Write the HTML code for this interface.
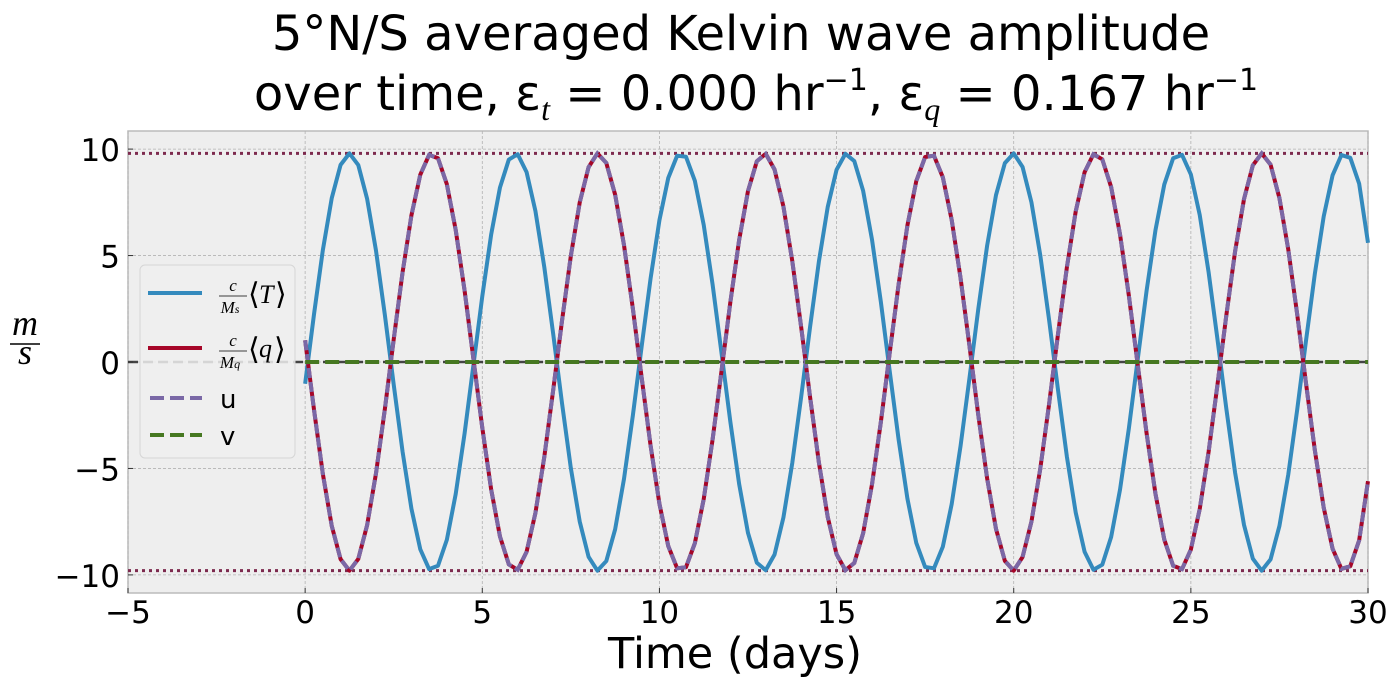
<!DOCTYPE html>
<html><head><meta charset="utf-8"><style>
body{margin:0;background:#fff;}
svg{display:block;font-family:"DejaVu Sans","Liberation Sans",sans-serif;}
</style></head><body>
<svg id="chart" width="1399" height="686" viewBox="0 0 1399 686" xmlns="http://www.w3.org/2000/svg">
<text x="741" y="50" font-size="48" text-anchor="middle">5°N/S averaged Kelvin wave amplitude</text>
<text x="756" y="110" font-size="48" text-anchor="middle">over time, ε<tspan font-family="Liberation Serif" font-style="italic" font-size="32" dy="10">t</tspan><tspan dy="-10"> = 0.000 hr</tspan><tspan font-size="30" dy="-20">−1</tspan><tspan dy="20">,  ε</tspan><tspan font-family="Liberation Serif" font-style="italic" font-size="32" dy="10">q</tspan><tspan dy="-10"> = 0.167 hr</tspan><tspan font-size="30" dy="-20">−1</tspan></text>
<rect x="128" y="131" width="1240" height="462" fill="#eeeeee" stroke="#bcbcbc" stroke-width="1.5"/>
<g id="grid"></g>
<g id="ref"></g>
<g id="series"></g>
<g id="ticks"></g>
<text x="735" y="668" font-size="43" text-anchor="middle">Time (days)</text>
<g font-family="Liberation Serif" font-style="italic" font-size="36" text-anchor="middle">
<text x="25" y="335">m</text>
<line x1="10" y1="344" x2="40" y2="344" stroke="#000" stroke-width="1.5"/>
<text x="25" y="364">s</text>
</g>
<g>
<rect x="140" y="265" width="155" height="193" rx="5" fill="#eeeeee" fill-opacity="0.85" stroke="#d6d6d6" stroke-width="1"/>
<line x1="148" y1="293" x2="202" y2="293" stroke="#348ABD" stroke-width="4"/>
<g font-family="Liberation Serif" font-style="italic">
<text x="233" y="291" font-size="17" text-anchor="middle">c</text>
<line x1="219" y1="296" x2="247" y2="296" stroke="#000" stroke-width="0.8"/>
<text x="230" y="313" font-size="17" text-anchor="middle">M<tspan font-size="12">s</tspan></text>
<text x="248" y="304" font-size="30" font-style="normal">⟨</text><text x="259" y="303" font-size="26">T</text><text x="275" y="304" font-size="30" font-style="normal">⟩</text>
</g>
<line x1="148" y1="348" x2="202" y2="348" stroke="#A60628" stroke-width="4"/>
<g font-family="Liberation Serif" font-style="italic">
<text x="233" y="346" font-size="17" text-anchor="middle">c</text>
<line x1="219" y1="351" x2="247" y2="351" stroke="#000" stroke-width="0.8"/>
<text x="230" y="368" font-size="17" text-anchor="middle">M<tspan font-size="12">q</tspan></text>
<text x="248" y="359" font-size="30" font-style="normal">⟨</text><text x="259" y="357" font-size="26">q</text><text x="274" y="359" font-size="30" font-style="normal">⟩</text>
</g>
<line x1="150" y1="398" x2="202" y2="398" stroke="#7A68A6" stroke-width="4" stroke-dasharray="14,6"/>
<text x="220" y="408" font-size="26">u</text>
<line x1="150" y1="435" x2="202" y2="435" stroke="#467821" stroke-width="4" stroke-dasharray="14,6"/>
<text x="220" y="445" font-size="26">v</text>
</g>
</svg>
<script>
const xTicks = [-5, 0, 5, 10, 15, 20, 25, 30];
const yTicks = [-10, -5, 0, 5, 10];
const yTickLabels = ["−10", "−5", "0", "5", "10"];
const tStart = 0;
const tStep = 0.25;
const tVals = [-1.02,2.24,5.26,7.69,9.26,9.80,9.25,7.66,5.23,2.21,-1.06,-4.21,-6.89,-8.80,-9.73,-9.57,-8.35,-6.20,-3.36,-0.14,3.09,5.98,8.20,9.51,9.76,8.92,7.09,4.46,1.34,-1.93,-4.99,-7.49,-9.15,-9.80,-9.35,-7.86,-5.49,-2.51,0.75,3.92,6.66,8.65,9.69,9.64,8.51,6.44,3.65,0.45,-2.79,-5.73,-8.03,-9.43,-9.78,-9.04,-7.30,-4.74,-1.65,1.62,4.71,7.28,9.03,9.78,9.44,8.04,5.75,2.82,-0.43,-3.63,-6.42,-8.50,-9.63,-9.69,-8.67,-6.67,-3.94,-0.77,2.49,5.47,7.84,9.34,9.80,9.16,7.50,5.01,1.96,-1.31,-4.44,-7.07,-8.91,-9.76,-9.52,-8.22,-6.00,-3.12,0.12,3.34,6.18,8.34,9.57,9.73,8.81,6.91,4.23,1.08,-2.18,-5.21,-7.65,-9.24,-9.80,-9.27,-7.70,-5.28,-2.26,1.00,4.15,6.84,8.77,9.72,9.59,8.38,5.60];
const qVals = [1.02,-2.24,-5.26,-7.69,-9.26,-9.80,-9.25,-7.66,-5.23,-2.21,1.06,4.21,6.89,8.80,9.73,9.57,8.35,6.20,3.36,0.14,-3.09,-5.98,-8.20,-9.51,-9.76,-8.92,-7.09,-4.46,-1.34,1.93,4.99,7.49,9.15,9.80,9.35,7.86,5.49,2.51,-0.75,-3.92,-6.66,-8.65,-9.69,-9.64,-8.51,-6.44,-3.65,-0.45,2.79,5.73,8.03,9.43,9.78,9.04,7.30,4.74,1.65,-1.62,-4.71,-7.28,-9.03,-9.78,-9.44,-8.04,-5.75,-2.82,0.43,3.63,6.42,8.50,9.63,9.69,8.67,6.67,3.94,0.77,-2.49,-5.47,-7.84,-9.34,-9.80,-9.16,-7.50,-5.01,-1.96,1.31,4.44,7.07,8.91,9.76,9.52,8.22,6.00,3.12,-0.12,-3.34,-6.18,-8.34,-9.57,-9.73,-8.81,-6.91,-4.23,-1.08,2.18,5.21,7.65,9.24,9.80,9.27,7.70,5.28,2.26,-1.00,-4.15,-6.84,-8.77,-9.72,-9.59,-8.38,-5.60];
const uVals = [1.02,-2.24,-5.26,-7.69,-9.26,-9.80,-9.25,-7.66,-5.23,-2.21,1.06,4.21,6.89,8.80,9.73,9.57,8.35,6.20,3.36,0.14,-3.09,-5.98,-8.20,-9.51,-9.76,-8.92,-7.09,-4.46,-1.34,1.93,4.99,7.49,9.15,9.80,9.35,7.86,5.49,2.51,-0.75,-3.92,-6.66,-8.65,-9.69,-9.64,-8.51,-6.44,-3.65,-0.45,2.79,5.73,8.03,9.43,9.78,9.04,7.30,4.74,1.65,-1.62,-4.71,-7.28,-9.03,-9.78,-9.44,-8.04,-5.75,-2.82,0.43,3.63,6.42,8.50,9.63,9.69,8.67,6.67,3.94,0.77,-2.49,-5.47,-7.84,-9.34,-9.80,-9.16,-7.50,-5.01,-1.96,1.31,4.44,7.07,8.91,9.76,9.52,8.22,6.00,3.12,-0.12,-3.34,-6.18,-8.34,-9.57,-9.73,-8.81,-6.91,-4.23,-1.08,2.18,5.21,7.65,9.24,9.80,9.27,7.70,5.28,2.26,-1.00,-4.15,-6.84,-8.77,-9.72,-9.59,-8.38,-5.60];
const vVals = new Array(121).fill(0);
const maxAmp = 9.8;

const NS = "http://www.w3.org/2000/svg";
const X0 = 128, X1 = 1368, Y0 = 131, Y1 = 593;
const xMin = -5, xMax = 30, yMin = -10.85, yMax = 10.85;
function xs(v){ return X0 + (v - xMin) / (xMax - xMin) * (X1 - X0); }
function ys(v){ return Y1 - (v - yMin) / (yMax - yMin) * (Y1 - Y0); }
function mk(tag, attrs, parent){
  const e = document.createElementNS(NS, tag);
  for (const k in attrs) e.setAttribute(k, attrs[k]);
  parent.appendChild(e); return e;
}
const grid = document.getElementById('grid');
const ticks = document.getElementById('ticks');
xTicks.forEach(t => {
  const l = mk('line', {x1: xs(t), x2: xs(t), y1: Y0, y2: Y1, stroke: '#b2b2b2', 'stroke-width': 0.8, 'stroke-dasharray': '3,2'}, grid);
  
  
  const tk = mk('line', {x1: xs(t), x2: xs(t), y1: Y1, y2: Y1 - 5, stroke: '#333', 'stroke-width': 1}, ticks);
  
  
  const tx = mk('text', {x: xs(t), y: 623, 'font-size': 31, 'text-anchor': 'middle'}, ticks);
  
  
  tx.textContent = t < 0 ? '−' + Math.abs(t) : String(t);
});
yTicks.forEach((t, i) => {
  const l = mk('line', {x1: X0, x2: X1, y1: ys(t), y2: ys(t), stroke: '#b2b2b2', 'stroke-width': 0.8, 'stroke-dasharray': '3,2'}, grid);
  
  
  const tk = mk('line', {x1: X0, x2: X0 + 5, y1: ys(t), y2: ys(t), stroke: '#333', 'stroke-width': 1}, ticks);
  
  
  const tx = mk('text', {x: X0 - 8, y: ys(t) + 12, 'font-size': 31, 'text-anchor': 'end'}, ticks);
  
  
  tx.textContent = yTickLabels[i];
});
const ref = document.getElementById('ref');
[maxAmp, -maxAmp].forEach(v => {
  const l = mk('line', {x1: X0, x2: X1, y1: ys(v), y2: ys(v), stroke: '#7d2a4e', 'stroke-width': 3, 'stroke-dasharray': '3,4'}, ref);
  
  
});
const z = mk('line', {x1: X0, x2: X1, y1: ys(0), y2: ys(0), stroke: '#444', 'stroke-width': 2.5, 'stroke-dasharray': '10,5'}, ref);



const series = document.getElementById('series');
function path(vals){
  return vals.map((v, i) => (i ? 'L' : 'M') + xs(tStart + i * tStep).toFixed(2) + ',' + ys(v).toFixed(2)).join('');
}
const pT = mk('path', {d: path(tVals), fill: 'none', stroke: '#348ABD', 'stroke-width': 4, 'stroke-linejoin': 'round'}, series);


const pQ = mk('path', {d: path(qVals), fill: 'none', stroke: '#A60628', 'stroke-width': 4, 'stroke-linejoin': 'round'}, series);


const pU = mk('path', {d: path(uVals), fill: 'none', stroke: '#7A68A6', 'stroke-width': 4, 'stroke-dasharray': '10,4'}, series);


const pV = mk('path', {d: path(vVals), fill: 'none', stroke: '#467821', 'stroke-width': 4, 'stroke-dasharray': '14,6'}, series);


</script>
</body></html>
